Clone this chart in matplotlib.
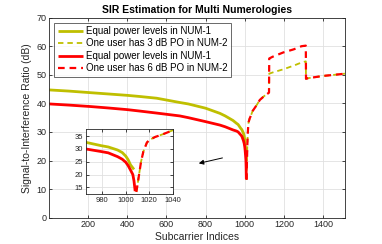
import matplotlib
matplotlib.use("Agg")
import matplotlib.pyplot as plt

plt.rcParams['font.family'] = ['Liberation Sans', 'DejaVu Sans']

# NUM-1 subcarriers (solid curves)
x_num1 = [1, 100, 209, 300, 400, 464, 550, 668, 711, 800, 873, 900, 940, 958, 966, 979, 985, 993, 997, 1000, 1002, 1004, 1006, 1007, 1008]
y_eq_3db = [44.7, 44.3, 43.75, 43.3, 42.8, 42.4, 41.8, 40.3, 39.8, 38.3, 36.5, 35.6, 34.0, 33.0, 32.6, 31.3, 30.8, 29.6, 28.6, 27.2, 25.8, 23.8, 22.6, 22.0, None]
y_eq_6db = [39.8, 39.4, 38.9, 38.4, 37.8, 37.3, 36.6, 35.6, 35.0, 33.6, 32.4, 31.8, 30.7, 30.3, 30.0, 29.0, 28.5, 27.0, 26.0, 24.8, 23.5, 21.8, 20.0, 17.5, 13.5]

# NUM-2 subcarriers (dashed curves)
x_num2 = [1009, 1010, 1012, 1013, 1015, 1018, 1020, 1025, 1030, 1034, 1040, 1050, 1060, 1077, 1100, 1119, 1124,
          1125, 1142, 1196, 1250, 1290, 1312,
          1313, 1323, 1400, 1460, 1512]
y_po_3db = [13.2, 16.0, 22.0, 25.0, 29.0, 32.5, 33.5, 34.7, 35.5, 36.2, 37.3, 38.3, 39.3, 41.2, 42.6, 43.5, 43.8,
            50.4, 50.8, 51.9, 53.2, 54.3, 54.7,
            48.6, 48.8, 49.6, 50.0, 50.4]
y_po_6db = [13.2, 16.0, 22.0, 25.0, 29.0, 32.5, 33.5, 34.7, 35.5, 36.2, 37.3, 38.3, 39.3, 41.2, 42.6, 43.5, 43.8,
            55.7, 56.3, 57.8, 58.9, 60.0, 60.2,
            48.6, 48.8, 49.6, 50.0, 50.4]

labels = ["Equal power levels in NUM-1", "One user has 3 dB PO in NUM-2",
          "Equal power levels in NUM-1", "One user has 6 dB PO in NUM-2"]
xticks = [200, 400, 600, 800, 1000, 1200, 1400]
yticks = [0, 10, 20, 30, 40, 50, 60, 70]
inset_xticks = [980, 1000, 1020, 1040]
inset_yticks = [15, 20, 25, 30, 35]

YEL = '#BFBF00'
RED = '#FF0000'
TXT = '#262626'
SPINE = '#262626'

fig = plt.figure(figsize=(3.82, 2.44), dpi=100)
ax = fig.add_axes([0.129, 0.108, 0.774, 0.8197])


def style(a, fs):
    a.grid(True, color='#E0E0E0', linewidth=0.6)
    a.set_axisbelow(True)
    a.tick_params(direction='in', length=2.5, width=0.6, labelsize=fs, colors=TXT,
                  top=True, right=True, pad=2)
    for s in a.spines.values():
        s.set_color(SPINE)
        s.set_linewidth(0.6)


def draw(a):
    y3 = [v for v in y_eq_3db if v is not None]
    a.plot(x_num1[:len(y3)], y3, color=YEL, lw=2.0, solid_capstyle='butt')
    a.plot(x_num2, y_po_3db, color=YEL, lw=1.3, ls=(0, (3, 2.2)))
    a.plot(x_num1, y_eq_6db, color=RED, lw=2.0, solid_capstyle='butt')
    a.plot(x_num2, y_po_6db, color=RED, lw=1.6, ls=(0, (3, 2.2)))


draw(ax)
style(ax, 6.5)
ax.set_xlim(1, 1512)
ax.set_ylim(0, 70)
ax.set_xticks(xticks)
ax.set_yticks(yticks)
ax.set_title("SIR Estimation for Multi Numerologies", fontsize=7.5, fontweight='bold',
             color='black', pad=3)
ax.set_xlabel("Subcarrier Indices", fontsize=7.5, color=TXT, labelpad=2)
ax.set_ylabel("Signal-to-Interference Ratio (dB)", fontsize=7.5, color=TXT, labelpad=3)

leg = ax.legend(labels, loc='upper left', bbox_to_anchor=(0.017, 0.975), fontsize=7,
                handlelength=2.6, handletextpad=0.3, labelspacing=0.25, borderpad=0.35,
                borderaxespad=0, frameon=True, fancybox=False)
leg.get_frame().set_edgecolor(SPINE)
leg.get_frame().set_linewidth(0.6)

ax.annotate("", xy=(765, 19.0), xytext=(886, 20.9),
            arrowprops=dict(arrowstyle='-|>', color='black', lw=0.7,
                            mutation_scale=7, shrinkA=0, shrinkB=0))

ins = fig.add_axes([0.225, 0.205, 0.227, 0.265])
ins.set_facecolor('white')
draw(ins)
style(ins, 5.5)
ins.set_xlim(966, 1040)
ins.set_ylim(12.4, 37.7)
ins.set_xticks(inset_xticks)
ins.set_yticks(inset_yticks)

fig.savefig("out.png", dpi=100)
